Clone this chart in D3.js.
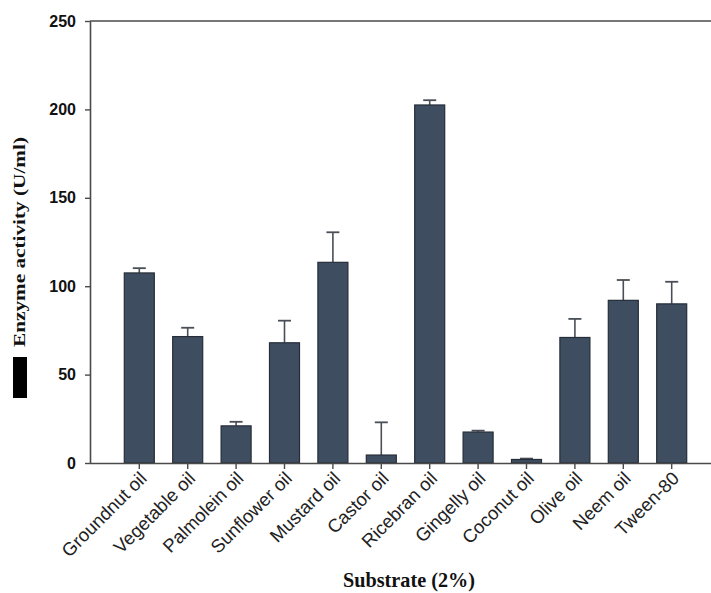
<!DOCTYPE html>
<html>
<head>
<meta charset="utf-8">
<script src="https://cdn.jsdelivr.net/npm/d3@7"></script>
<style>
  html, body { margin: 0; padding: 0; background: #ffffff; }
  svg { display: block; }
</style>
</head>
<body>
<svg id="chart" width="711" height="593"></svg>
<script>
const categories = ["Groundnut oil", "Vegetable oil", "Palmolein oil", "Sunflower oil", "Mustard oil", "Castor oil", "Ricebran oil", "Gingelly oil", "Coconut oil", "Olive oil", "Neem oil", "Tween-80"];
const activity = [107.5, 71.5, 21, 68, 113.5, 4.5, 202.5, 17.5, 2, 71, 92, 90];
const errorUp = [2.7, 5, 2.3, 12.5, 17, 18.5, 2.7, 0.8, 0.5, 10.5, 11.5, 12.5];
const yTicks = [0, 50, 100, 150, 200, 250];
const xTitle = "Substrate (2%)";
const yTitle = "Enzyme activity (U/ml)";

const svg = d3.select("#chart");
const axisX0 = 90, rightEdge = 711;
const yTop = 21, yBottom = 463;

const y = d3.scaleLinear().domain([0, 250]).range([yBottom, yTop]);
const x = d3.scaleBand().domain(categories).range([115.1, 695.9]).paddingInner(0.38).paddingOuter(0.19);

const axisColor = "#4a4a4a";

// top border line
svg.append("line")
  .attr("x1", axisX0).attr("x2", rightEdge)
  .attr("y1", y(250)).attr("y2", y(250))
  .attr("stroke", axisColor).attr("stroke-width", 1.6);

const bars = categories.map((c, i) => ({ c, v: activity[i], e: errorUp[i] }));

// error bars (upward only)
const eg = svg.append("g");
bars.forEach(d => {
  const cx = x(d.c) + x.bandwidth() / 2;
  eg.append("line").attr("x1", cx).attr("x2", cx)
    .attr("y1", y(d.v)).attr("y2", y(d.v + d.e))
    .attr("stroke", "#4a4f57").attr("stroke-width", 1.6);
  eg.append("line").attr("x1", cx - 6.5).attr("x2", cx + 6.5)
    .attr("y1", y(d.v + d.e)).attr("y2", y(d.v + d.e))
    .attr("stroke", "#4a4f57").attr("stroke-width", 1.8);
});

svg.append("g").selectAll("rect").data(bars).join("rect")
  .attr("x", d => x(d.c))
  .attr("y", d => y(d.v))
  .attr("width", x.bandwidth())
  .attr("height", d => y(0) - y(d.v))
  .attr("fill", "#3f4d60")
  .attr("stroke", "#252d38")
  .attr("stroke-width", 1.2);

// y axis
const yAxis = svg.append("g")
  .attr("transform", `translate(${axisX0},0)`)
  .call(d3.axisLeft(y).tickValues(yTicks).tickSize(5).tickPadding(9).tickSizeOuter(0));
yAxis.select(".domain").attr("stroke", axisColor).attr("stroke-width", 1.6);
yAxis.selectAll(".tick line").attr("stroke", axisColor).attr("stroke-width", 1.4);
yAxis.selectAll(".tick text")
  .attr("font-family", "Liberation Sans, Arial, sans-serif")
  .attr("font-size", 16).attr("font-weight", "bold").attr("fill", "#111");

// x axis
const xAxis = svg.append("g")
  .attr("transform", `translate(0,${yBottom})`)
  .call(d3.axisBottom(x).tickSize(6).tickSizeOuter(0));
xAxis.select(".domain").attr("d", `M${axisX0},0.5H${rightEdge}`)
  .attr("stroke", axisColor).attr("stroke-width", 1.6);
xAxis.selectAll(".tick line").attr("stroke", axisColor).attr("stroke-width", 1.4);
xAxis.selectAll(".tick text")
  .attr("font-family", "Liberation Sans, Arial, sans-serif")
  .attr("font-size", 18.5).attr("fill", "#222")
  .attr("text-anchor", "end")
  .attr("x", 0).attr("y", 0)
  .attr("dy", "0.35em")
  .attr("transform", "translate(4,12) rotate(-45)");

// x title
svg.append("text")
  .attr("x", 409).attr("y", 587)
  .attr("text-anchor", "middle")
  .attr("font-family", "Liberation Serif, Times New Roman, serif")
  .attr("font-weight", "bold").attr("font-size", 21)
  .attr("textLength", 132).attr("lengthAdjust", "spacingAndGlyphs")
  .attr("fill", "#111")
  .text(xTitle);

// y title
svg.append("text")
  .attr("transform", "translate(25,242) rotate(-90)")
  .attr("text-anchor", "middle")
  .attr("font-family", "Liberation Serif, Times New Roman, serif")
  .attr("font-weight", "bold").attr("font-size", 17)
  .attr("textLength", 210).attr("lengthAdjust", "spacingAndGlyphs")
  .attr("fill", "#111")
  .text(yTitle);

// legend swatch
svg.append("rect")
  .attr("x", 13).attr("y", 357).attr("width", 14).attr("height", 41)
  .attr("fill", "#000");
</script>
</body>
</html>
